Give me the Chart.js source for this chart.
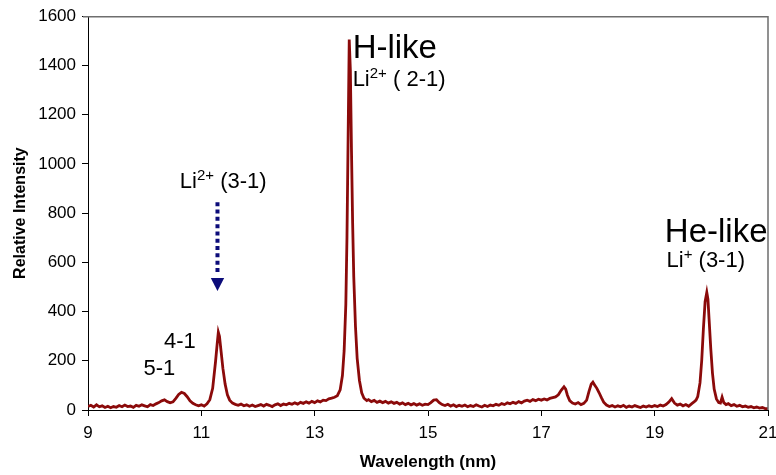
<!DOCTYPE html>
<html>
<head>
<meta charset="utf-8">
<script src="https://cdn.jsdelivr.net/npm/chart.js@4/dist/chart.umd.min.js"></script>
<style>
html,body{margin:0;padding:0;background:#fff;}
#wrap{width:776px;height:475px;}
</style>
</head>
<body>
<div id="wrap"><canvas id="c" width="776" height="475"></canvas></div>
<script>
// ---- data ----
const wavelength = [
  9.00,9.05,9.10,9.15,9.20,9.25,9.30,9.35,9.40,9.45,9.50,9.55,9.60,9.65,9.70,9.75,9.80,9.85,9.90,9.95,10.00,10.05,10.10,10.15,10.20,
  10.25,10.30,10.35,10.40,10.45,10.50,10.55,10.60,10.65,10.70,10.75,10.80,10.85,10.90,10.95,11.00,11.05,11.10,
  11.15,11.20,11.25,11.28,11.30,11.32,11.35,11.38,11.42,11.46,11.50,11.55,11.60,
  11.65,11.70,11.75,11.80,11.85,11.90,11.95,12.00,12.05,12.10,12.15,12.20,12.25,12.30,12.35,12.40,12.45,12.50,12.55,12.60,12.65,12.70,12.75,12.80,12.85,12.90,12.95,13.00,13.05,13.10,13.15,13.20,13.25,13.30,13.35,
  13.40,13.45,13.49,13.52,13.55,13.57,13.59,13.61,13.63,13.65,13.67,13.69,13.72,13.75,13.79,13.83,13.87,13.92,
  13.95,14.00,14.05,14.10,14.15,14.20,14.25,14.30,14.35,14.40,14.45,14.50,14.55,14.60,14.65,14.70,14.75,14.80,14.85,14.90,14.95,15.00,15.05,15.10,15.15,15.20,15.25,15.30,15.35,15.40,15.45,15.50,15.55,15.60,15.65,15.70,15.75,15.80,15.85,15.90,15.95,16.00,16.05,16.10,16.15,16.20,
  16.25,16.30,16.35,16.40,16.45,16.50,16.55,16.60,16.65,16.70,16.75,16.80,16.85,16.90,16.95,17.00,17.05,17.10,17.15,17.20,17.25,
  17.30,17.35,17.40,17.43,17.46,17.50,17.55,17.60,17.65,17.70,17.75,17.80,17.84,17.88,17.91,17.94,17.98,18.02,18.06,18.10,18.15,18.20,
  18.25,18.30,18.35,18.40,18.45,18.50,18.55,18.60,18.65,18.70,18.75,18.80,18.85,18.90,18.95,19.00,19.05,19.10,19.15,19.20,19.25,19.30,19.35,19.40,19.45,19.50,19.55,19.60,19.65,
  19.70,19.73,19.76,19.80,19.83,19.86,19.89,19.92,19.94,19.96,19.99,20.02,20.05,20.09,20.13,20.16,20.19,20.22,20.26,
  20.30,20.35,20.40,20.45,20.50,20.55,20.60,20.65,20.70,20.75,20.80,20.85,20.90,20.95,21.00
];
const intensity = [
  14,19,12,21,13,17,10,15,9,14,11,18,13,20,14,16,11,19,15,21,17,13,22,18,25,
  30,37,41,34,29,33,47,63,72,67,54,37,27,21,17,21,16,25,
  42,88,195,270,316,300,235,170,105,62,40,28,23,
  19,24,17,21,15,20,14,18,22,16,23,19,14,21,25,18,24,21,27,23,29,24,31,27,33,28,35,30,37,33,40,38,45,48,52,
  58,82,140,240,430,700,1100,1505,1380,1050,760,540,340,210,120,70,48,38,
  42,34,39,31,36,30,35,28,33,27,31,24,29,22,27,21,26,20,25,19,24,22,30,40,42,30,22,18,23,16,21,14,19,15,20,13,18,14,21,16,12,19,14,20,17,23,
  19,26,22,29,25,31,27,34,29,36,40,35,42,38,44,40,45,41,47,50,53,
  62,80,94,85,60,38,28,24,30,22,27,40,75,105,113,102,88,70,50,32,20,14,
  18,12,17,13,19,11,16,12,18,14,10,16,12,17,13,18,14,20,16,22,32,46,28,20,24,17,22,15,25,
  34,40,55,110,200,330,440,478,450,370,250,150,85,45,30,28,52,30,22,
  26,18,22,15,19,13,16,11,14,9,12,8,10,6,5
];
const xTicks = [9, 11, 13, 15, 17, 19, 21];
const yTicks = [0, 200, 400, 600, 800, 1000, 1200, 1400, 1600];
const xTitle = 'Wavelength (nm)';
const yTitle = 'Relative Intensity';

// annotation texts (anchored in data coordinates)
const annotations = [
  {x: 13.67, y: 1431, size: 33, parts: [{t: 'H-like'}]},
  {x: 13.67, y: 1316, size: 22, parts: [{t: 'Li'}, {t: '2+', sup: true}, {t: ' ( 2-1)'}]},
  {x: 19.18, y: 682,  size: 33, parts: [{t: 'He-like'}]},
  {x: 19.21, y: 583,  size: 22, parts: [{t: 'Li'}, {t: '+', sup: true}, {t: ' (3-1)'}]},
  {x: 10.62, y: 902,  size: 22, parts: [{t: 'Li'}, {t: '2+', sup: true}, {t: ' (3-1)'}]},
  {x: 10.34, y: 251,  size: 22, parts: [{t: '4-1'}]},
  {x: 9.98,  y: 142,  size: 22, parts: [{t: '5-1'}]}
];
const arrow = {x: 11.285, yTop: 844, yDotEnd: 552, yHead: 536, yTip: 483};

const FONT = '"Liberation Sans", Arial, Helvetica, sans-serif';

const points = wavelength.map((w, i) => ({x: w, y: intensity[i]}));

const decor = {
  id: 'decor',
  afterDatasetsDraw(chart) {
    const ctx = chart.ctx;
    const xs = chart.scales.x, ys = chart.scales.y;
    const a = chart.chartArea;
    ctx.save();
    // top and right frame lines
    ctx.strokeStyle = '#6e6e6e';
    ctx.lineWidth = 1.5;
    ctx.beginPath();
    ctx.moveTo(a.left - 5, a.top + 0.5);
    ctx.lineTo(a.right, a.top + 0.5);
    ctx.lineTo(a.right, a.bottom);
    ctx.stroke();

    // texts
    ctx.fillStyle = '#000';
    ctx.textBaseline = 'alphabetic';
    ctx.textAlign = 'left';
    annotations.forEach(an => {
      let px = xs.getPixelForValue(an.x);
      const py = ys.getPixelForValue(an.y);
      an.parts.forEach(p => {
        if (p.sup) {
          const s = Math.round(an.size * 0.66);
          ctx.font = s + 'px ' + FONT;
          ctx.fillText(p.t, px, py - an.size * 0.36);
          px += ctx.measureText(p.t).width;
        } else {
          ctx.font = an.size + 'px ' + FONT;
          ctx.fillText(p.t, px, py);
          px += ctx.measureText(p.t).width;
        }
      });
    });

    // dotted arrow
    const ax = xs.getPixelForValue(arrow.x);
    ctx.strokeStyle = '#0c0c7a';
    ctx.fillStyle = '#0c0c7a';
    ctx.lineWidth = 4;
    ctx.setLineDash([4, 3.3]);
    ctx.beginPath();
    ctx.moveTo(ax, ys.getPixelForValue(arrow.yTop));
    ctx.lineTo(ax, ys.getPixelForValue(arrow.yDotEnd));
    ctx.stroke();
    ctx.setLineDash([]);
    const hy = ys.getPixelForValue(arrow.yHead);
    const ty = ys.getPixelForValue(arrow.yTip);
    ctx.beginPath();
    ctx.moveTo(ax - 6.7, hy);
    ctx.lineTo(ax + 6.7, hy);
    ctx.lineTo(ax, ty);
    ctx.closePath();
    ctx.fill();
    ctx.restore();
  }
};

new Chart(document.getElementById('c'), {
  type: 'line',
  data: {
    datasets: [{
      data: points,
      borderColor: '#8B0A0A',
      borderWidth: 2.8,
      pointRadius: 0,
      tension: 0,
      fill: false
    }]
  },
  options: {
    responsive: false,
    animation: false,
    devicePixelRatio: 1,
    layout: {padding: {left: 0, right: 8, top: 15, bottom: 0}},
    plugins: {legend: {display: false}, tooltip: {enabled: false}},
    scales: {
      x: {
        type: 'linear',
        min: 9, max: 21,
        afterBuildTicks(s) { s.ticks = xTicks.map(v => ({value: v})); },
        afterFit(s) { s.height = 65; s.paddingLeft = 0; s.paddingRight = 0; },
        ticks: {color: '#000', font: {family: FONT, size: 17}, padding: 7, maxRotation: 0, autoSkip: false,
                callback: v => String(v)},
        grid: {drawOnChartArea: false, drawTicks: true, tickLength: 6, color: '#000', lineWidth: 1},
        border: {display: true, color: '#000', width: 1},
        title: {display: true, text: xTitle, color: '#000', font: {family: FONT, size: 17, weight: 'bold'}, padding: {top: 0, bottom: 2}}
      },
      y: {
        min: 0, max: 1600,
        afterBuildTicks(s) { s.ticks = yTicks.map(v => ({value: v})); },
        afterFit(s) { s.width = 88; },
        ticks: {color: '#000', font: {family: FONT, size: 17}, padding: 6, callback: v => String(v)},
        grid: {drawOnChartArea: false, drawTicks: true, tickLength: 6, color: '#000', lineWidth: 1},
        border: {display: true, color: '#000', width: 1},
        title: {display: true, text: yTitle, color: '#000', font: {family: FONT, size: 16, weight: 'bold'}, padding: {top: 11, bottom: 0}}
      }
    }
  },
  plugins: [decor]
});
</script>
</body>
</html>
